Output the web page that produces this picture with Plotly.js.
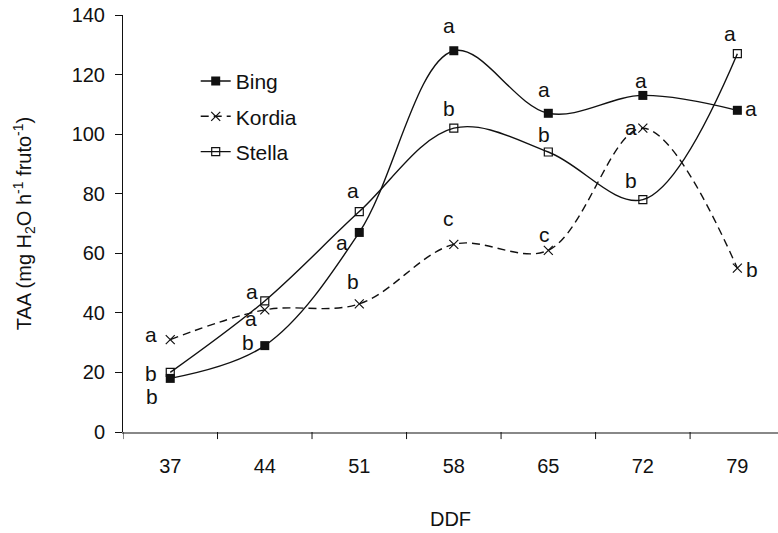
<!DOCTYPE html>
<html><head><meta charset="utf-8">
<script src="https://cdn.plot.ly/plotly-3.0.1.min.js"></script>
<style>html,body{margin:0;padding:0;background:#fff}#c{width:778px;height:533px}</style>
</head><body><div id="c"></div>
<script>
const categories = ['37','44','51','58','65','72','79'];
const bing   = [18, 29, 67, 128, 107, 113, 108];
const kordia = [31, 41, 43, 63, 61, 102, 55];
const stella = [20, 44, 74, 102, 94, 78, 127];
const bingLetters   = ['b','b','a','a','a','a','a'];
const kordiaLetters = ['a','a','b','c','c','a','b'];
const stellaLetters = ['b','a','a','b','b','b','a'];
const yTicks = [0,20,40,60,80,100,120,140];

// letter offsets (px) relative to each point
const bingOff   = [[-18,-18],[-17,3],[-17,-10],[-5,25],[-4,24],[-2,15],[14,2]];
const kordiaOff = [[-19,5],[-14,-9],[-6,22],[-5,26],[-4,16],[-12,1],[15,-1]];
const stellaOff = [[-19,-1],[-13,9],[-6,21],[-5,20],[-4,18],[-12,19],[-7,20]];

const xi = categories.map((c,i)=>i);
const F = 'Liberation Sans, Arial, sans-serif';

const traces = [
  {x: xi, y: bing, name: 'Bing', legendgroup:'g1', mode: 'lines+markers',
   line: {color:'#111', width:1.4, shape:'spline', smoothing:1},
   marker: {symbol:'square', size:9, color:'#111'}},
  {x: xi, y: kordia, name: 'Kordia', legendgroup:'g2', mode: 'lines+markers',
   line: {color:'#111', width:1.4, shape:'spline', smoothing:1, dash:'8px,5px'},
   marker: {symbol:'x-thin', size:9, line:{color:'#111', width:1.2}}},
  {x: xi, y: stella, name: 'Stella', legendgroup:'g3', mode: 'lines+markers',
   line: {color:'#111', width:1.4, shape:'spline', smoothing:1},
   marker: {symbol:'square-open', size:8, color:'#111', line:{width:1.2}}}
];

const annotations = [];
function addLetters(vals, letters, offs){
  vals.forEach((v,i)=>annotations.push({x:i, y:v, xref:'x', yref:'y', text:letters[i],
    showarrow:false, xshift:offs[i][0], yshift:offs[i][1], font:{family:F, size:21, color:'#111'}}));
}
addLetters(bing, bingLetters, bingOff);
addLetters(kordia, kordiaLetters, kordiaOff);
addLetters(stella, stellaLetters, stellaOff);

const layout = {
  width:778, height:533,
  margin:{l:123, r:0, t:15, b:101},
  paper_bgcolor:'#fff', plot_bgcolor:'#fff',
  font:{family:F, size:20, color:'#111'},
  showlegend:true,
  legend:{x:0.111, y:0.89, xanchor:'left', yanchor:'top', bgcolor:'rgba(0,0,0,0)',
          font:{family:F, size:21, color:'#111'}, tracegroupgap:5},
  xaxis:{range:[-0.5, 6.43], tickmode:'array', tickvals:xi, ticktext:categories,
         showgrid:false, zeroline:false, showline:true, linecolor:'#888', linewidth:2,
         ticks:'', title:{text:'DDF', font:{family:F, size:20}, standoff:36},
         tickfont:{family:F, size:20}, ticklabelstandoff:15},
  yaxis:{range:[0,140], tickmode:'array', tickvals:yTicks, showgrid:false, zeroline:false,
         showline:true, linecolor:'#111', linewidth:1, ticks:'outside', ticklen:7, tickcolor:'#111',
         tickfont:{family:F, size:20}, ticklabelstandoff:6,
         title:{text:'TAA (mg H<sub>2</sub>O h<sup>-1</sup> fruto<sup>-1</sup>)', font:{family:F, size:20}, standoff:34}},
  shapes: [-0.5,0.5,1.5,2.5,3.5,4.5,5.5].map(b=>({type:'line', xref:'x', yref:'paper', x0:b, x1:b, y0:0, y1:-0.017,
    line:{color:'#111', width:1}})),
  annotations: annotations
};
Plotly.newPlot('c', traces, layout, {displayModeBar:false, staticPlot:true});
</script></body></html>
